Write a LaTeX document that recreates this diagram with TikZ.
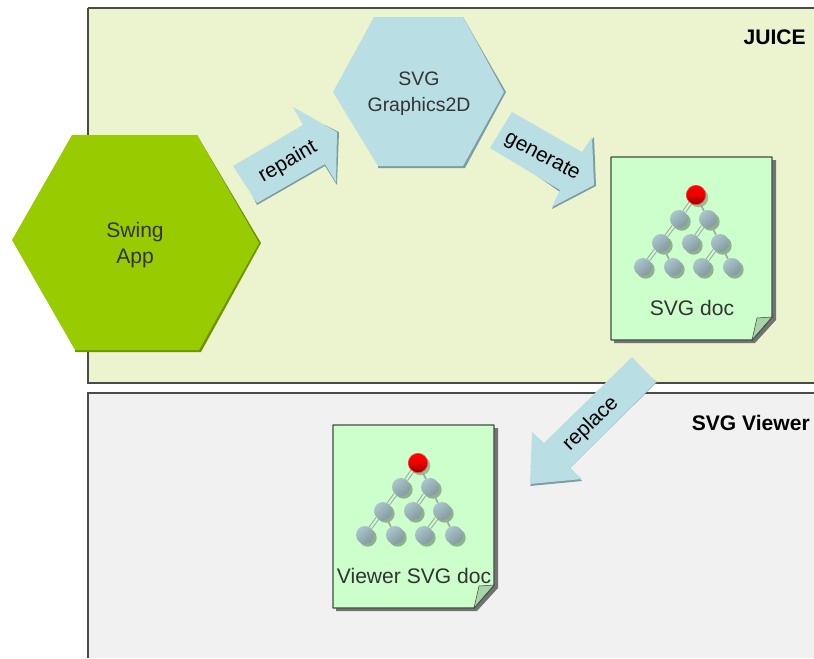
\documentclass[tikz,border=0pt]{standalone}
\usepackage{fontspec}
\setmainfont{Liberation Sans}
\usetikzlibrary{shadows}
\definecolor{juicebg}{HTML}{ECF3CF}
\definecolor{viewerbg}{HTML}{F1F1F1}
\definecolor{panelline}{HTML}{4A4A4A}
\definecolor{swinggreen}{HTML}{99CC00}
\definecolor{swingdark}{HTML}{6F9400}
\definecolor{hexblue}{HTML}{B9DFE4}
\definecolor{hexdark}{HTML}{7F9CA3}
\definecolor{docgreen}{HTML}{CCFFCC}
\definecolor{foldgreen}{HTML}{A9D4A9}
\definecolor{docline}{HTML}{3F4F3F}
\definecolor{ballgray}{HTML}{AAC6CC}
\definecolor{balldark}{HTML}{84989F}
\definecolor{edgegray}{HTML}{A0AAA5}
\tikzset{
  panelbox/.style={draw=panelline, line width=0.9pt},
  labeltext/.style={font=\fontsize{15.8}{19.5}\selectfont, text=black!80, align=center, inner sep=0pt},
  hextext/.style={font=\fontsize{14.6}{19.5}\selectfont, text=black!80, align=center, inner sep=0pt},
  paneltext/.style={font=\fontsize{15.8}{19.5}\selectfont\bfseries, inner sep=0pt},
  arrowtext/.style={font=\fontsize{15.6}{19.5}\selectfont, inner sep=0pt},
  ball/.style={circle, inner sep=0pt, minimum size=13.5pt, top color=ballgray, bottom color=balldark, shading angle=40,
    drop shadow={shadow xshift=2pt, shadow yshift=-2pt, fill=black, opacity=0.3}},
  rootball/.style={circle, inner sep=0pt, minimum size=14.5pt, top color=red, bottom color=red!55!black, middle color=red!92!black,
    draw=red!75!white, line width=0.5pt,
    drop shadow={shadow xshift=2pt, shadow yshift=-2pt, fill=black, opacity=0.25}},
  twoline/.style={draw=edgegray, line width=0.8pt, double=docgreen, double distance=1.5pt},
  oneline/.style={draw=edgegray, line width=1.3pt}
}
% one page with its tree, drawn in the frame of the upper page
\newcommand{\docpage}[3]{
  \begin{scope}[shift={#2}, name prefix=#1-]
    \fill[black!55] (614,160) -- (776,160) -- (776,320) -- (755,343) -- (614,343) -- cycle;
    \draw[fill=docgreen, draw=docline, line width=1.1pt, line join=round]
      (611,157) -- (772,157) -- (772,317) -- (752,340) -- (611,340) -- cycle;
    \draw[fill=foldgreen, draw=docline, line width=0.4pt] (757,318) -- (772,317) -- (752,340) -- cycle;
    \node[rootball] (root) at (696,195) {};
    \foreach \n/\x/\y in {la/679/219, lb/708/219, ma/661/243, mb/691/243, mc/720/243,
                          ba/643/267, bb/673/267, bc/702/267, bd/732/267} {
      \node[ball] (\n) at (\x,\y) {};
    }
    \foreach \p/\q in {root/la, la/ma, lb/mb, ma/ba, mc/bc} {
      \draw[twoline] (\p) -- (\q);
    }
    \foreach \p/\q in {root/lb, lb/mc, ma/bb, mc/bd} {
      \draw[oneline] (\p) -- (\q);
    }
    \node[labeltext] (label) at (692,308) {#3};
  \end{scope}
}
\begin{document}
\begin{tikzpicture}[x=0.75pt, y=-0.75pt]
\useasboundingbox (0,0) rectangle (814,658);

% Panels, open at the right and at the bottom
\fill[juicebg] (88,8) rectangle (814,383);
\draw[panelbox] (88,8) -- (88,383) -- (814,383);
\draw[panelline, line width=1.5pt] (88,8) -- (814,8);
\fill[viewerbg] (88,393) rectangle (814,658);
\draw[panelbox] (814,393) -- (88,393) -- (88,658);
\node[paneltext, anchor=east] (juice) at (806,37) {JUICE};
\node[paneltext, anchor=east] (viewer) at (810,423) {SVG Viewer};

% Hexagons, the dark edge only on the lower right
\fill[swingdark] (190,135) -- (197,135) -- (261,243) -- (201,352) -- (75,352) -- (75,340) -- (190,340) -- cycle;
\fill[swinggreen] (72,135) -- (197,135) -- (259,243) -- (199,350) -- (75,350) -- (12,240) -- cycle;
\node[labeltext] (swing) at (135,245) {Swing\\App};

\fill[hexdark] (455,17) -- (463,17) -- (506,92) -- (465,168) -- (378,168) -- (378,160) -- (455,160) -- cycle;
\fill[hexblue] (374,17) -- (463,17) -- (504,92) -- (463,166) -- (378,166) -- (333,92) -- cycle;
\node[hextext] (graphics) at (419,94) {SVG\\Graphics2D};

% Block arrows
\fill[hexdark] (303,125) -- (325,125) -- (339,132) -- (337,185) -- (325,166) -- (257,205) -- (250,190) -- cycle;
\fill[hexblue] (293,107) -- (303,125) -- (233,166) -- (257,203) -- (325,164) -- (336,182) -- (337,132) -- cycle;
\node[arrowtext, rotate=30] (repaint) at (288,162) {repaint};

\fill[hexdark] (500,150) -- (560,192) -- (552,209) -- (596,186) -- (594,137) -- (570,170) -- cycle;
\fill[hexblue] (512,112) -- (490,148) -- (560,190) -- (552,207) -- (594,185) -- (592,137) -- (582,152) -- cycle;
\node[arrowtext, rotate=-28] (generate) at (542,157) {generate};

\fill[hexdark] (640,370) -- (657,382) -- (570,468) -- (582,481) -- (530,486) -- (540,470) -- (570,450) -- cycle;
\fill[hexblue] (632,357) -- (656,382) -- (570,468) -- (582,479) -- (530,484) -- (532,432) -- (544,443) -- cycle;
\node[arrowtext, rotate=44] (replace) at (591,424) {replace};

% Pages
\docpage{doc}{(0,0)}{SVG doc}
\docpage{vdoc}{(-278,268)}{Viewer SVG doc}
\end{tikzpicture}
\end{document}
